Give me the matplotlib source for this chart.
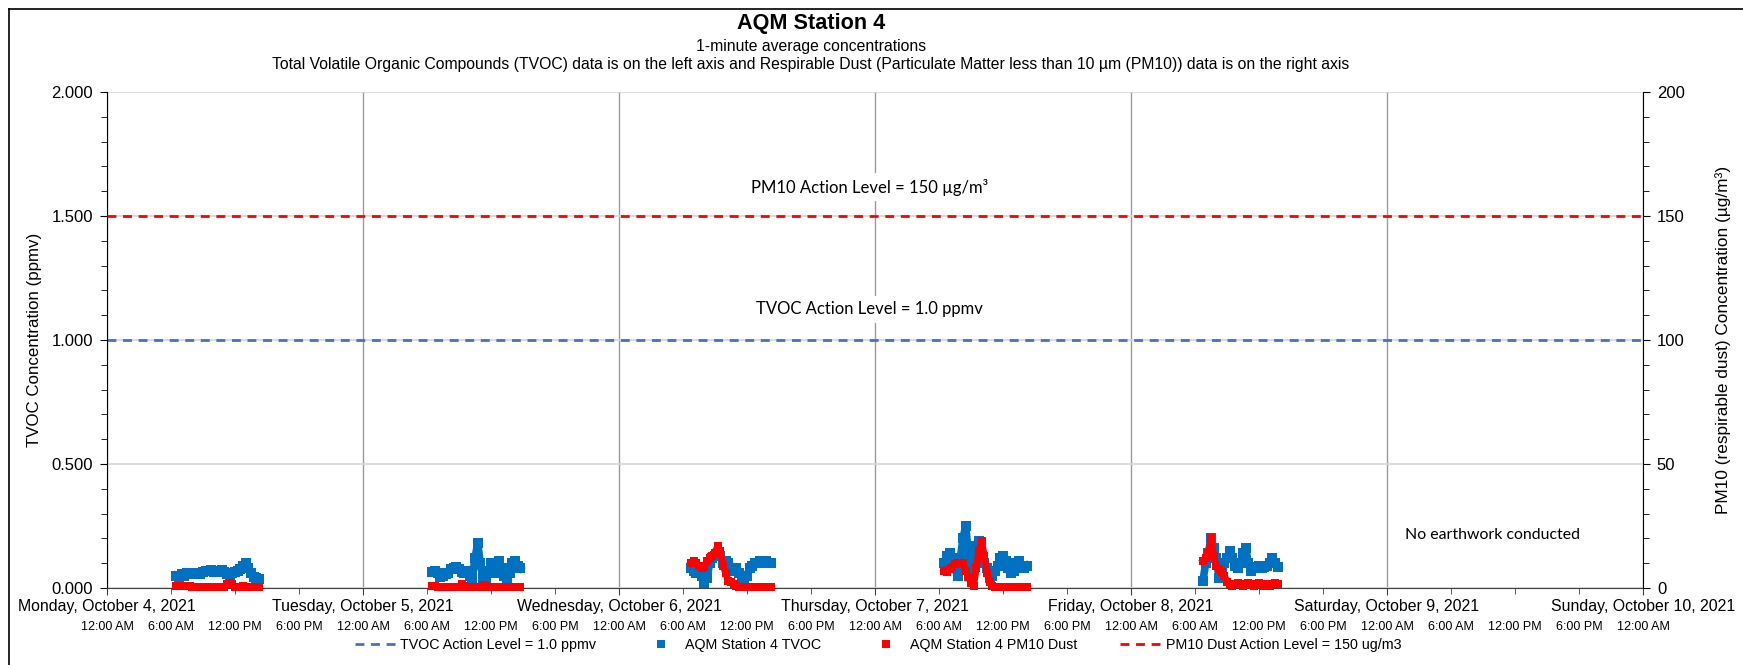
import matplotlib

matplotlib.use('Agg')
import matplotlib.pyplot as plt
import matplotlib.dates as mdates
from matplotlib.lines import Line2D
from matplotlib.ticker import MultipleLocator, FormatStrFormatter, FuncFormatter
import pandas as pd

plt.rcParams['font.family'] = ['Liberation Sans', 'DejaVu Sans']

# --- dati (campioni ogni 15 minuti) ---
day_starts = ['2021-10-04 06:30', '2021-10-05 06:30', '2021-10-06 06:45',
              '2021-10-07 06:30', '2021-10-08 06:45']

tvoc_mon = [0.05, 0.045, 0.055, 0.05, 0.06, 0.055, 0.06, 0.058, 0.062, 0.055, 0.065, 0.07,
            0.068, 0.072, 0.065, 0.07, 0.066, 0.072, 0.064, 0.058, 0.05, 0.06, 0.065, 0.07,
            0.075, 0.09, 0.1, 0.08, 0.06, 0.045, 0.04, 0.035]
pm10_mon = [1.0, 1.0, 0.8, 0.8, 0.8, 0.8, 0.5, 0.5, 0.5, 0.5, 0.5, 0.5, 0.5, 0.5, 0.5, 0.5,
            0.5, 0.5, 0.5, 1.5, 2.0, 1.5, 0.5, 0.5, 0.5, 1.0, 0.5, 0.5, 0.5, 0.5, 0.5, 0.5]

tvoc_tue = [0.065, 0.07, 0.06, 0.045, 0.05, 0.055, 0.06, 0.075, 0.08, 0.085, 0.075, 0.065,
            0.06, 0.07, 0.05, 0.04, 0.12, 0.18, 0.1, 0.04, 0.035, 0.07, 0.1, 0.06, 0.09, 0.11,
            0.08, 0.05, 0.04, 0.06, 0.1, 0.11, 0.09, 0.08]
pm10_tue = [0.8, 0.8, 0.5, 0.5, 0.5, 0.5, 0.5, 0.5, 0.5, 0.5, 0.5, 1.5, 1.0, 0.5, 0.5, 0.5,
            0.5, 0.5, 0.5, 1.2, 1.0, 0.5, 0.5, 0.5, 0.5, 0.5, 0.5, 0.5, 0.5, 0.5, 0.5, 0.5,
            0.5, 0.5]

tvoc_wed = [0.08, 0.07, 0.06, 0.06, 0.05, 0.02, 0.04, 0.1, 0.12, 0.13, 0.14, 0.13, 0.1, 0.11,
            0.1, 0.08, 0.07, 0.08, 0.06, 0.04, 0.03, 0.05, 0.08, 0.09, 0.1, 0.1, 0.11, 0.1,
            0.11, 0.1, 0.1]
pm10_wed = [10, 11, 10, 9, 8, 8.5, 11, 12, 13, 14, 17, 15, 9, 6, 3, 2.5, 1.5, 1, 0.5, 0.3,
            0.3, 0.3, 0.3, 0.3, 0.3, 0.3, 0.3, 0.3, 0.3, 0.3, 0.3]

tvoc_thu = [0.1, 0.13, 0.14, 0.12, 0.08, 0.05, 0.12, 0.2, 0.25, 0.14, 0.06, 0.1, 0.17, 0.19,
            0.13, 0.1, 0.08, 0.04, 0.05, 0.07, 0.09, 0.12, 0.13, 0.11, 0.08, 0.06, 0.07, 0.1,
            0.11, 0.09, 0.08, 0.09]
pm10_thu = [7, 6.5, 7.5, 8.5, 9.5, 10, 10, 10, 7, 4.5, 2, 1, 8, 15, 19, 13, 6, 2.5, 1, 0.5,
            0.5, 0.5, 0.5, 0.5, 0.5, 0.5, 0.5, 0.5, 0.5, 0.5, 0.5, 0.5]

tvoc_fri = [0.03, 0.1, 0.14, 0.2, 0.16, 0.12, 0.04, 0.06, 0.1, 0.12, 0.15, 0.12, 0.09, 0.08,
            0.1, 0.14, 0.16, 0.1, 0.07, 0.08, 0.085, 0.09, 0.08, 0.085, 0.09, 0.1, 0.12, 0.1,
            0.085]
pm10_fri = [11, 12, 14, 20, 13, 9, 7.5, 6.5, 5, 2.5, 1.5, 1, 1.5, 2, 1.5, 1, 1.5, 2, 1.5, 1,
            1.5, 2, 1.5, 1, 1.5, 1, 1.5, 2, 1.5]

tvoc_days = [tvoc_mon, tvoc_tue, tvoc_wed, tvoc_thu, tvoc_fri]
pm10_days = [pm10_mon, pm10_tue, pm10_wed, pm10_thu, pm10_fri]

tvoc_action = 1.0
pm10_action = 150

BLUE = '#0070C0'
RED = '#FF0000'
BLUE_DASH = '#4472C4'
W, H = 1743, 665

fig = plt.figure(figsize=(W / 100, H / 100), dpi=100)
ax = fig.add_axes([107 / W, 77 / H, 1536 / W, 496 / H])
ax2 = ax.twinx()

# serie
for start, tv, pm in zip(day_starts, tvoc_days, pm10_days):
    t = pd.date_range(start, periods=len(tv), freq='15min')
    ax.plot(t, tv, color=BLUE, marker='s', ms=6.5, mew=0, lw=5.5, clip_on=False, zorder=3)
    ax2.plot(t, pm, color=RED, marker='s', ms=5.2, mew=0, lw=4.8, clip_on=False, zorder=3)

# livelli di azione
ax.axhline(tvoc_action, color=BLUE_DASH, lw=2, ls=(0, (3.2, 2.4)), zorder=2)
ax2.axhline(pm10_action, color=RED, lw=2, ls=(0, (3.2, 2.4)), zorder=2)

# assi
ax.set_xlim(pd.Timestamp('2021-10-04'), pd.Timestamp('2021-10-10'))
ax.set_ylim(0, 2)
ax2.set_ylim(0, 200)

ax.yaxis.set_major_locator(MultipleLocator(0.5))
ax.yaxis.set_minor_locator(MultipleLocator(0.1))
ax.yaxis.set_major_formatter(FormatStrFormatter('%.3f'))
ax2.yaxis.set_major_locator(MultipleLocator(50))
ax2.yaxis.set_minor_locator(MultipleLocator(10))

ax.xaxis.set_major_locator(mdates.DayLocator())
ax.xaxis.set_minor_locator(mdates.HourLocator(byhour=[0, 6, 12, 18]))
ax.xaxis.remove_overlapping_locs = False


def fmt_day(x, pos):
    d = mdates.num2date(x)
    return f"{d:%A}, {d:%B} {d.day}, {d.year}"


def fmt_hour(x, pos):
    d = mdates.num2date(x)
    h = d.hour % 12 or 12
    return f"{h}:00 {'AM' if d.hour < 12 else 'PM'}"


ax.xaxis.set_major_formatter(FuncFormatter(fmt_day))
ax.xaxis.set_minor_formatter(FuncFormatter(fmt_hour))

ax.tick_params(axis='x', which='major', length=5, pad=3, labelsize=11.4, color='#404040')
ax.tick_params(axis='x', which='minor', length=4, pad=20, labelsize=9, color='#404040')
ax.tick_params(axis='y', which='major', length=5, pad=5, labelsize=12)
ax.tick_params(axis='y', which='minor', length=4)
ax2.tick_params(axis='y', which='major', length=5, pad=5, labelsize=12)
ax2.tick_params(axis='y', which='minor', length=4)

ax.grid(axis='x', which='major', color='#9A9A9A', lw=1.0)
ax.grid(axis='y', which='major', color='#D9D9D9', lw=1.3)
ax.set_axisbelow(True)

for s in ['top', 'right']:
    ax.spines[s].set_visible(False)
for s in ['top', 'left', 'bottom']:
    ax2.spines[s].set_visible(False)
ax.spines['bottom'].set_color('#404040')
ax.spines['left'].set_color('black')
ax2.spines['right'].set_color('black')

ax.set_ylabel('TVOC Concentration (ppmv)', fontsize=12.2)
ax.yaxis.set_label_coords(-0.042, 0.5)
ax2.set_ylabel('PM10 (respirable dust) Concentration (µg/m³)', fontsize=12.4, rotation=90)
ax2.yaxis.set_label_coords(1.047, 0.5)

# annotazioni
box = dict(facecolor='white', edgecolor='none', pad=4)
ax.text(pd.Timestamp('2021-10-06 23:30'), 1.615, 'PM10 Action Level = 150 µg/m³',
        family='Lato', fontsize=12, ha='center', va='center', bbox=box, zorder=4)
ax.text(pd.Timestamp('2021-10-06 23:30'), 1.125, 'TVOC Action Level = 1.0 ppmv',
        family='Lato', fontsize=12, ha='center', va='center', bbox=box, zorder=4)
ax.text(pd.Timestamp('2021-10-09 09:55'), 0.215, 'No earthwork conducted',
        family='Lato', fontsize=11.4, ha='center', va='center', zorder=4)

# titoli
fig.text(811 / W, 1 - 24 / H, 'AQM Station 4', ha='center', va='center',
         fontsize=15.6, fontweight='bold')
fig.text(811 / W, 1 - 47 / H, '1-minute average concentrations', ha='center', va='center',
         fontsize=11.3)
fig.text(811 / W, 1 - 65 / H,
         'Total Volatile Organic Compounds (TVOC) data is on the left axis and Respirable Dust '
         '(Particulate Matter less than 10 µm (PM10)) data is on the right axis',
         ha='center', va='center', fontsize=11.3)

# legenda
handles = [
    Line2D([], [], color=BLUE_DASH, lw=2, ls=(0, (3.2, 2.4))),
    Line2D([], [], color=BLUE, marker='s', ms=6, mew=0, ls='none'),
    Line2D([], [], color=RED, marker='s', ms=6, mew=0, ls='none'),
    Line2D([], [], color=RED, lw=2, ls=(0, (3.2, 2.4))),
]
labels = ['TVOC Action Level = 1.0 ppmv', 'AQM Station 4 TVOC',
          'AQM Station 4 PM10 Dust', 'PM10 Dust Action Level = 150 ug/m3']
fig.legend(handles, labels, loc='center', bbox_to_anchor=(878 / W, 1 - 645 / H), ncol=4,
           frameon=False, fontsize=10.3, handlelength=3, handletextpad=0.2,
           columnspacing=3)

# cornice esterna
fig.add_artist(Line2D([9 / W, 9 / W], [0, 1 - 9 / H], color='black', lw=1.2))
fig.add_artist(Line2D([9 / W, 1], [1 - 9 / H, 1 - 9 / H], color='black', lw=1.2))

fig.savefig('out.png', dpi=100)
